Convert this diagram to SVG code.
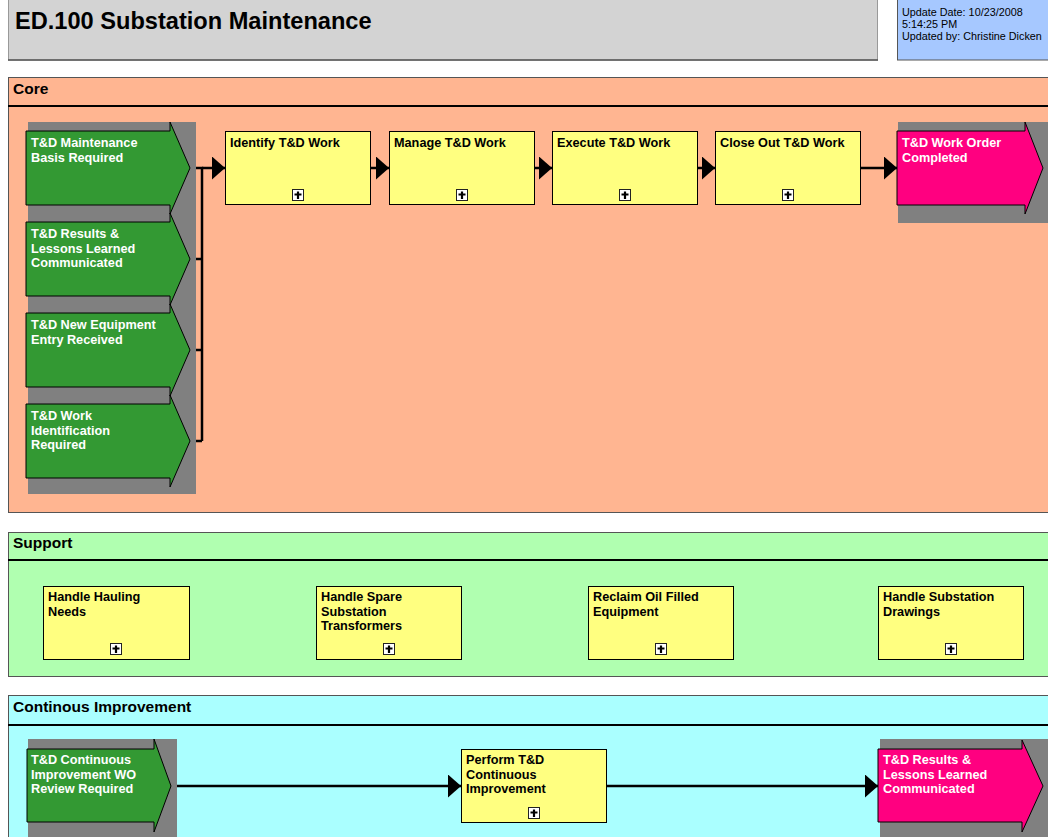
<svg xmlns="http://www.w3.org/2000/svg" xmlns:xlink="http://www.w3.org/1999/xlink" width="1048" height="837" viewBox="0 0 1048 837">
<style>
text{font-family:"Liberation Sans",Arial,sans-serif;}
.t{font-weight:bold;font-size:12.7px;fill:#000;}
.w{font-weight:bold;font-size:12.7px;fill:#fff;}
.lane{font-weight:bold;font-size:15.5px;fill:#000;}
.proc{fill:#ffff80;stroke:#000;stroke-width:1;}
.ev{fill:#339933;stroke:#000;stroke-width:1;}
.evp{fill:#ff0080;stroke:#000;stroke-width:1;}
.bg{fill:#808080;}
.cn{fill:none;stroke:#000;stroke-width:2.5;}
.ca{fill:none;stroke:#000;stroke-width:2.5;marker-end:url(#ah);}
</style>
<defs>
<marker id="ah" markerUnits="userSpaceOnUse" markerWidth="14" markerHeight="24" refX="13" refY="11.5" orient="auto"><path d="M0,0 L13,11.5 L0,23 z" fill="#000"/></marker>
<g id="ico"><rect x="0.5" y="0.5" width="11" height="11" fill="#fff" stroke="#222"/><path d="M6 2.5v7.5M2.5 5.5h7" stroke="#000" stroke-width="2.2"/></g>
</defs>
<rect width="1048" height="837" fill="#fff"/>

<g id="header">
<rect x="8.5" y="-1" width="869" height="61" fill="#d3d3d3" stroke="#999"/>
<line x1="8" y1="60" x2="878" y2="60" stroke="#555" stroke-width="1.5"/>
<text x="15" y="29" style="font-weight:bold;font-size:23.6px">ED.100 Substation Maintenance</text>
</g>
<g id="info">
<rect x="897.5" y="-1" width="152" height="61" fill="#a6c8ff" stroke="#555"/>
<text x="902" y="16" style="font-size:10.8px">Update Date:  10/23/2008</text>
<text x="902" y="28" style="font-size:10.8px">5:14:25 PM</text>
<text x="902" y="40" style="font-size:10.8px">Updated by:  Christine Dicken</text>
</g>

<g id="lane-core">
<rect x="8.5" y="77.5" width="1041" height="435" fill="#ffb591" stroke="#555"/>
<line x1="8" y1="106" x2="1048" y2="106" stroke="#000" stroke-width="2"/>
<text class="lane" x="13" y="94">Core</text>
</g>
<g id="lane-support">
<rect x="8.5" y="532.5" width="1041" height="144" fill="#b0ffb0" stroke="#555"/>
<line x1="8" y1="560" x2="1048" y2="560" stroke="#000" stroke-width="2"/>
<text class="lane" x="13" y="548">Support</text>
</g>
<g id="lane-ci">
<rect x="8.5" y="695.5" width="1041" height="150" fill="#aaffff" stroke="#555"/>
<line x1="8" y1="725" x2="1048" y2="725" stroke="#000" stroke-width="2"/>
<text class="lane" x="13" y="712">Continous Improvement</text>
</g>

<rect class="bg" x="28" y="122" width="168" height="372"/>
<rect class="bg" x="898" y="122" width="150" height="101"/>
<rect class="bg" x="28" y="739" width="149" height="98"/>
<rect class="bg" x="880" y="739" width="168" height="98"/>

<g id="connectors">
<path class="cn" d="M196 168H202V441M196 259H202M196 350H202M196 441H202"/>
<path class="ca" d="M202 168H225"/>
<path class="ca" d="M371 168H389"/>
<path class="ca" d="M534 168H552"/>
<path class="ca" d="M697 168H715"/>
<path class="ca" d="M861 168H897"/>
<path class="ca" d="M177 786H461"/>
<path class="ca" d="M606 786H878"/>
</g>

<g id="ev-maint" transform="translate(26,131)">
<path class="ev" d="M0,0H144V-9L164,37L144,83V74H0Z"/>
<text class="w" x="5" y="16">T&amp;D Maintenance</text>
<text class="w" x="5" y="30.5">Basis Required</text>
</g>
<g id="ev-results" transform="translate(26,222)">
<path class="ev" d="M0,0H144V-9L164,37L144,83V74H0Z"/>
<text class="w" x="5" y="16">T&amp;D Results &amp;</text>
<text class="w" x="5" y="30.5">Lessons Learned</text>
<text class="w" x="5" y="45">Communicated</text>
</g>
<g id="ev-newequip" transform="translate(26,313)">
<path class="ev" d="M0,0H144V-9L164,37L144,83V74H0Z"/>
<text class="w" x="5" y="16">T&amp;D New Equipment</text>
<text class="w" x="5" y="30.5">Entry Received</text>
</g>
<g id="ev-workid" transform="translate(26,404)">
<path class="ev" d="M0,0H144V-9L164,37L144,83V74H0Z"/>
<text class="w" x="5" y="16">T&amp;D Work</text>
<text class="w" x="5" y="30.5">Identification</text>
<text class="w" x="5" y="45">Required</text>
</g>

<g id="p-identify" transform="translate(225,131)">
<rect class="proc" x="0.5" y="0.5" width="145" height="73"/>
<text class="t" x="5" y="16">Identify T&amp;D Work</text>
<use xlink:href="#ico" x="67" y="58"/>
</g>
<g id="p-manage" transform="translate(389,131)">
<rect class="proc" x="0.5" y="0.5" width="145" height="73"/>
<text class="t" x="5" y="16">Manage T&amp;D Work</text>
<use xlink:href="#ico" x="67" y="58"/>
</g>
<g id="p-execute" transform="translate(552,131)">
<rect class="proc" x="0.5" y="0.5" width="145" height="73"/>
<text class="t" x="5" y="16">Execute T&amp;D Work</text>
<use xlink:href="#ico" x="67" y="58"/>
</g>
<g id="p-closeout" transform="translate(715,131)">
<rect class="proc" x="0.5" y="0.5" width="145" height="73"/>
<text class="t" x="5" y="16">Close Out T&amp;D Work</text>
<use xlink:href="#ico" x="67" y="58"/>
</g>
<g id="ev-completed" transform="translate(897,131)">
<path class="evp" d="M0,0H128V-9L146,37L128,83V74H0Z"/>
<text class="w" x="5" y="16">T&amp;D Work Order</text>
<text class="w" x="5" y="30.5">Completed</text>
</g>

<g id="p-hauling" transform="translate(43,586)">
<rect class="proc" x="0.5" y="0.5" width="146" height="73"/>
<text class="t" x="5" y="15">Handle Hauling</text>
<text class="t" x="5" y="29.5">Needs</text>
<use xlink:href="#ico" x="67" y="57"/>
</g>
<g id="p-spare" transform="translate(316,586)">
<rect class="proc" x="0.5" y="0.5" width="145" height="73"/>
<text class="t" x="5" y="15">Handle Spare</text>
<text class="t" x="5" y="29.5">Substation</text>
<text class="t" x="5" y="44">Transformers</text>
<use xlink:href="#ico" x="67" y="57"/>
</g>
<g id="p-reclaim" transform="translate(588,586)">
<rect class="proc" x="0.5" y="0.5" width="145" height="73"/>
<text class="t" x="5" y="15">Reclaim Oil Filled</text>
<text class="t" x="5" y="29.5">Equipment</text>
<use xlink:href="#ico" x="67" y="57"/>
</g>
<g id="p-drawings" transform="translate(878,586)">
<rect class="proc" x="0.5" y="0.5" width="145" height="73"/>
<text class="t" x="5" y="15">Handle Substation</text>
<text class="t" x="5" y="29.5">Drawings</text>
<use xlink:href="#ico" x="67" y="57"/>
</g>

<g id="ev-cireview" transform="translate(27,749)">
<path class="ev" d="M0,0H127V-10L144,37L127,83V73H0Z"/>
<text class="w" x="4" y="15">T&amp;D Continuous</text>
<text class="w" x="4" y="29.5">Improvement WO</text>
<text class="w" x="4" y="44">Review Required</text>
</g>
<g id="p-perform" transform="translate(461,749)">
<rect class="proc" x="0.5" y="0.5" width="145" height="73"/>
<text class="t" x="5" y="15">Perform T&amp;D</text>
<text class="t" x="5" y="29.5">Continuous</text>
<text class="t" x="5" y="44">Improvement</text>
<use xlink:href="#ico" x="67" y="58"/>
</g>
<g id="ev-cilessons" transform="translate(878,749)">
<path class="evp" d="M0,0H144V-9L165,37L144,83V73H0Z"/>
<text class="w" x="5" y="15">T&amp;D Results &amp;</text>
<text class="w" x="5" y="29.5">Lessons Learned</text>
<text class="w" x="5" y="44">Communicated</text>
</g>
</svg>
